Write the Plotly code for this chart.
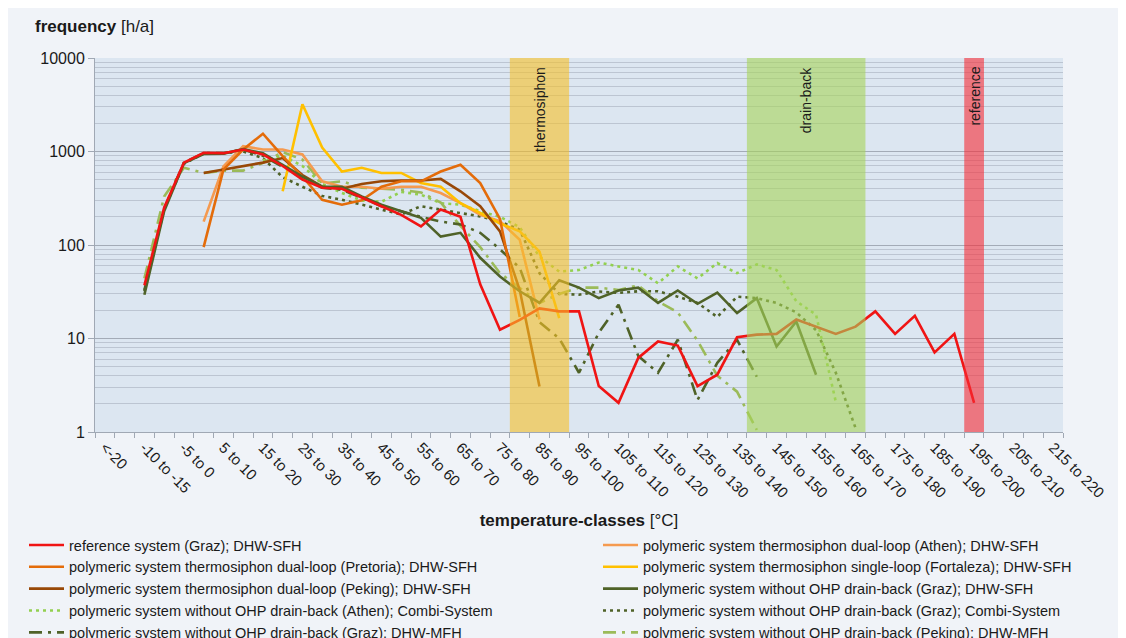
import plotly.graph_objects as go

# ---------------- data ----------------
categories = ["<-20", "-20 to -15", "-10 to -15", "-10 to -5", "-5 to 0", "0 to 5", "5 to 10",
              "10 to 15", "15 to 20", "20 to 25", "25 to 30", "30 to 35", "35 to 40", "40 to 45",
              "45 to 50", "50 to 55", "55 to 60", "60 to 65", "65 to 70", "70 to 75", "75 to 80",
              "80 to 85", "85 to 90", "90 to 95", "95 to 100", "100 to 105", "105 to 110",
              "110 to 115", "115 to 120", "120 to 125", "125 to 130", "130 to 135", "135 to 140",
              "140 to 145", "145 to 150", "150 to 155", "155 to 160", "160 to 165", "165 to 170",
              "170 to 175", "175 to 180", "180 to 185", "185 to 190", "190 to 195", "195 to 200",
              "200 to 205", "205 to 210", "210 to 215", "215 to 220"]

N = None
ref_graz = [N, N, 37, 250, 760, 970, 960, 1050, 930, 700, 500, 410, 400, 320, 260, 210, 158, 240,
            200, 38, 12.4, 15.8, 21, 19.5, 19.5, 3.1, 2.05, 6.2, 9.3, 8.4, 3.1, 4.1, 10.3, 11,
            11.2, 16, 13.4, 11.2, 13.4, 19.5, 11.2, 17.5, 7.1, 11.2, 2.05, N, N, N, N]
ts_athen = [N, N, N, N, N, 178, 690, 1140, 1050, 1050, 930, 480, 420, 420, 400, 420, 420, 360,
            280, 210, 180, 114, 16] + [N] * 26
ts_pretoria = [N, N, N, N, N, 95, 640, 1050, 1550, 890, 540, 305, 270, 300, 420, 480, 480, 610,
               720, 460, 190, 17] + [N] * 27
ts_fortaleza = [N, N, N, N, N, N, N, N, N, 375, 3200, 1100, 610, 670, 590, 590, 460, 420, 280,
                220, 170, 140, 85, 16.5] + [N] * 25
ts_peking = [N, N, N, N, N, 590, 640, 690, 760, 850, 560, 420, 400, 450, 480, 490, 490, 510,
             375, 260, 140, 33, 3.06] + [N] * 26
db_graz_sfh = [N, N, 29.4, 230, 750, 940, 950, 1060, 960, 720, 540, 420, 420, 330, 270, 230, 195,
               123, 135, 73, 46, 32, 24, 42, 35, 27, 32.6, 35, 24, 32.6, 23.5, 31, 18.7, 27, 8.2,
               15.2, 4.1] + [N] * 12
db_athen_combi = [N, N, N, N, N, N, N, N, 800, 900, 700, 450, 360, 300, 290, 370, 345, 280, 270,
                  230, 200, 155, 75, 52, 54, 65, 59, 54, 39, 59, 44, 64, 50, 62, 54, 25, 18,
                  2.1] + [N] * 11
db_graz_combi = [N, N, 32, 240, 740, 950, 960, 1000, 850, 530, 420, 335, 305, 270, 240, 212, 260,
                 238, 220, 202, 178, 146, 50, 30, 29.4, 31.8, 30.7, 32, 32, 28, 24, 17, 28, 27,
                 24, 19, 12.3, 4.3, 1.1] + [N] * 10
db_graz_mfh = [N, N, 33, 245, 760, 960, 960, 1050, 900, 690, 520, 410, 390, 320, 260, 230, 200,
               178, 166, 135, 90, 57, 15, 10, 4.3, 11.5, 23, 6.5, 4.3, 9.7, 2.2, 5.5, 9.7,
               3.9] + [N] * 15
db_peking_mfh = [N, N, 44, 330, 670, 590, 625, 625, 755, 985, 820, 455, 480, 410, 400, 390, 365,
                 285, 160, 95, 50, 35, 24, 30, 35, 35, 33, 37, 25, 19, 9.5, 4, 2.7,
                 1.05] + [N] * 15

tick_labels = ["<-20", "-10 to -15", "-5 to 0", "5 to 10", "15 to 20", "25 to 30", "35 to 40",
               "45 to 50", "55 to 60", "65 to 70", "75 to 80", "85 to 90", "95 to 100",
               "105 to 110", "115 to 120", "125 to 130", "135 to 140", "145 to 150",
               "155 to 160", "165 to 170", "175 to 180", "185 to 190", "195 to 200",
               "205 to 210", "215 to 220"]
y_ticks = [1, 10, 100, 1000, 10000]

bands = [("thermosiphon", "80 to 85", "90 to 95", "#f7bf27"),
         ("drain-back", "140 to 145", "165 to 170", "#a6d459"),
         ("reference", "195 to 200", "195 to 200", "#f72c35")]

DD = "13px,6px,3px,6px"
series = [
    # name, values, color, dash, legend, rank
    ("reference system (Graz); DHW-SFH", ref_graz, "#f01414", "solid", "legend", 1),
    ("polymeric system thermosiphon dual-loop (Athen); DHW-SFH", ts_athen, "#f59a50", "solid", "legend2", 1),
    ("polymeric system thermosiphon dual-loop (Pretoria); DHW-SFH", ts_pretoria, "#e46c0a", "solid", "legend", 2),
    ("polymeric system thermosiphon single-loop (Fortaleza); DHW-SFH", ts_fortaleza, "#ffc000", "solid", "legend2", 2),
    ("polymeric system thermosiphon dual-loop (Peking); DHW-SFH", ts_peking, "#984807", "solid", "legend", 3),
    ("polymeric system without OHP drain-back (Graz); DHW-SFH", db_graz_sfh, "#4f6228", "solid", "legend2", 3),
    ("polymeric system without OHP drain-back (Athen); Combi-System", db_athen_combi, "#92d050", "3px,4px", "legend", 4),
    ("polymeric system without OHP drain-back (Graz); Combi-System", db_graz_combi, "#4f6228", "3px,4px", "legend2", 4),
    ("polymeric system without OHP drain-back (Graz); DHW-MFH", db_graz_mfh, "#4f6228", DD, "legend", 5),
    ("polymeric system without OHP drain-back (Peking); DHW-MFH", db_peking_mfh, "#9bbb59", DD, "legend2", 5),
]
# draw order (later on top)
draw_order = [7, 6, 9, 8, 1, 3, 4, 2, 5, 0]

FONT = "Liberation Sans, Arial, sans-serif"
idx = list(range(len(categories)))

fig = go.Figure()
for k in draw_order:
    name, vals, col, dash, leg, rank = series[k]
    fig.add_trace(go.Scatter(
        x=idx, y=vals, name=name, mode="lines", legend=leg, legendrank=rank,
        line=dict(color=col, width=2.6, dash=dash), connectgaps=False,
    ))

for label, c0, c1, col in bands:
    i0 = categories.index(c0)
    i1 = categories.index(c1)
    fig.add_shape(type="rect", xref="x", yref="paper", x0=i0 - 0.5, x1=i1 + 0.5, y0=0, y1=1,
                  fillcolor=col, opacity=0.6, line_width=0, layer="above")
    fig.add_annotation(x=(i0 + i1) / 2, y=1, xref="x", yref="paper", text=label,
                       textangle=-90, showarrow=False, yanchor="top", xanchor="center",
                       yshift=-7, font=dict(family=FONT, size=14, color="#1a1a1a"))

# plot area in figure pixels
L, T, W, H = 87, 50, 968, 374
fig.add_annotation(xref="paper", yref="paper", x=(25 - L) / W, y=1 + (T - 19) / H,
                   xanchor="left", yanchor="middle", showarrow=False,
                   text="<b>frequency</b> [h/a]", font=dict(family=FONT, size=17, color="#1a1a1a"))

leg_common = dict(orientation="v", xref="container", yref="container",
                  xanchor="left", yanchor="top", itemwidth=35,
                  font=dict(family=FONT, size=14.5, color="#1a1a1a"),
                  bgcolor="rgba(0,0,0,0)", traceorder="normal", tracegroupgap=0)

minor_y = [m * 10 ** e for e in range(4) for m in range(2, 10)]
fig.update_layout(
    width=1126, height=638,
    margin=dict(l=L, r=1126 - L - W, t=T, b=638 - T - H, autoexpand=False),
    paper_bgcolor="#f0f3f8", plot_bgcolor="#dce6f1",
    font=dict(family=FONT, color="#1a1a1a"),
    showlegend=True,
    legend=dict(leg_common, x=16 / 1126, y=1 - 521 / 638),
    legend2=dict(leg_common, x=590 / 1126, y=1 - 521 / 638),
    xaxis=dict(range=[-0.5, len(categories) - 0.5], tickmode="array",
               tickvals=idx[::2], ticktext=tick_labels, tickangle=45,
               ticks="", showgrid=False, zeroline=False,
               showline=True, linecolor="#a0a8b4", linewidth=1,
               tickfont=dict(family=FONT, size=15, color="#1a1a1a"),
               minor=dict(tickvals=[i - 0.5 for i in range(len(categories) + 1)],
                          ticks="outside", ticklen=5, tickcolor="#a0a8b4", showgrid=False),
               title=dict(text="<b>temperature-classes</b> [°C]", standoff=14,
                          font=dict(family=FONT, size=17, color="#1a1a1a"))),
    yaxis=dict(type="log", range=[0, 4], tickmode="array", tickvals=y_ticks,
               ticktext=[str(v) for v in y_ticks],
               showgrid=True, gridcolor="#a3abb7", gridwidth=1,
               showline=True, linecolor="#a0a8b4", ticks="outside", ticklen=6,
               tickcolor="#a0a8b4", zeroline=False,
               tickfont=dict(family=FONT, size=16, color="#1a1a1a"),
               minor=dict(tickvals=minor_y, showgrid=True, gridcolor="#bcc5d2",
                          gridwidth=1, ticks="")),
)

fig.write_html("out.html")
